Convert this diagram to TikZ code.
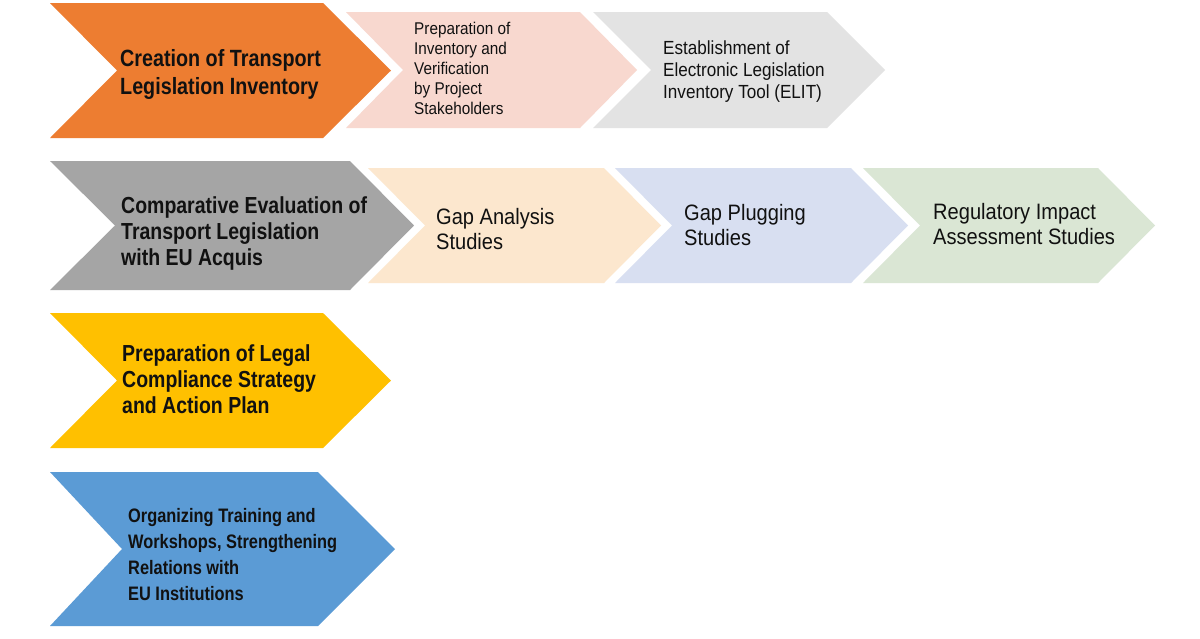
\documentclass[tikz,border=0pt]{standalone}
\usepackage{fontspec}
\newfontfamily\condreg[FakeStretch=0.9]{Liberation Sans}
\newfontfamily\condbf[FakeStretch=0.84]{Liberation Sans}
\definecolor{corange}{HTML}{ED7D31}
\definecolor{cpink}{HTML}{F8D8CF}
\definecolor{cgraylt}{HTML}{E3E3E3}
\definecolor{cgray}{HTML}{A5A5A5}
\definecolor{cpeach}{HTML}{FCE7CE}
\definecolor{clav}{HTML}{D8DFF1}
\definecolor{cgreen}{HTML}{DAE6D4}
\definecolor{cyellow}{HTML}{FFC000}
\definecolor{cblue}{HTML}{5B9BD5}
\definecolor{ctext}{HTML}{111111}
\tikzset{
  lbl/.style={anchor=west, align=left, inner sep=0pt, text=ctext},
  bigbf/.style={lbl, font=\condbf\bfseries\fontsize{23.5}{28}\selectfont},
  midbf/.style={lbl, font=\condbf\bfseries\fontsize{23.2}{26}\selectfont},
  smallbf/.style={lbl, font=\condbf\bfseries\fontsize{19.5}{26}\selectfont},
  regtext/.style={lbl, font=\condreg\fontsize{22.3}{25}\selectfont},
  midtext/.style={lbl, font=\condreg\fontsize{19}{22}\selectfont},
  smalltext/.style={lbl, font=\condreg\fontsize{17}{20}\selectfont},
}
% chevron: #1 colour, #2 left x, #3 notch x, #4 shoulder x, #5 tip x, #6 top y, #7 mid y, #8 bottom y
\newcommand{\chevshape}[8]{%
  \fill[#1] (#2,#6) -- (#4,#6) -- (#5,#7) -- (#4,#8) -- (#2,#8) -- (#3,#7) -- cycle;}
\begin{document}
\begin{tikzpicture}[x=1pt,y=-1pt]
\useasboundingbox (0,0) rectangle (1200,638);
\fill[white] (0,0) rectangle (1200,638);
% row 1
\chevshape{corange}{50}{117}{323}{391}{3}{70.5}{138}
\chevshape{cpink}{346}{403}{580}{637}{12}{70}{128}
\chevshape{cgraylt}{593}{651}{827}{885}{12}{70}{128}
\node[bigbf] (t1) at (120,74) {Creation of Transport\\Legislation Inventory};
\node[smalltext] (t1a) at (414,68) {Preparation of\\Inventory and\\Verification\\by Project\\Stakeholders};
\node[midtext] (t1b) at (663,72) {Establishment of\\Electronic Legislation\\Inventory Tool (ELIT)};
% row 2
\chevshape{cgray}{50}{115}{350}{414}{161}{225.5}{290}
\chevshape{cpeach}{368}{425}{604}{661}{168}{225.5}{283}
\chevshape{clav}{615}{672}{851}{908}{168}{225.5}{283}
\chevshape{cgreen}{863}{920}{1098}{1155}{168}{225.5}{283}
\node[midbf] (t2) at (121,233) {Comparative Evaluation of\\Transport Legislation\\with EU Acquis};
\node[regtext] (t2a) at (436,229.5) {Gap Analysis\\Studies};
\node[regtext] (t2b) at (684,225) {Gap Plugging\\Studies};
\node[regtext] (t2c) at (933,224) {Regulatory Impact\\Assessment Studies};
% row 3
\chevshape{cyellow}{50}{117}{323}{391}{313}{380.5}{448}
\node[midbf] (t3) at (122,379.5) {Preparation of Legal\\Compliance Strategy\\and Action Plan};
% row 4
\chevshape{cblue}{50}{122}{318}{395}{472}{549}{626}
\node[smallbf] (t4) at (128,555) {Organizing Training and\\Workshops, Strengthening\\Relations with\\EU Institutions};
\end{tikzpicture}
\end{document}
